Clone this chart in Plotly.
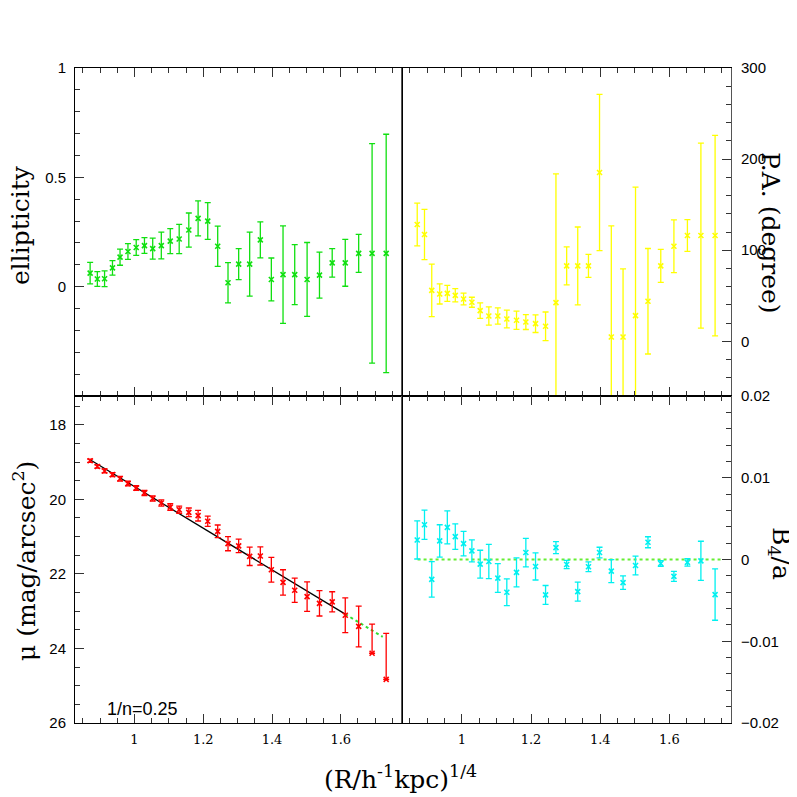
import plotly.graph_objects as go

# radius (R/h^-1 kpc)^(1/4), shared by all four panels
r14 = [0.871, 0.892, 0.913, 0.936, 0.958, 0.981, 1.005, 1.029, 1.053, 1.078,
       1.104, 1.130, 1.158, 1.185, 1.213, 1.242, 1.272, 1.303, 1.335, 1.366,
       1.398, 1.432, 1.466, 1.502, 1.538, 1.575, 1.613, 1.652, 1.691, 1.732]

ellip = [0.062, 0.035, 0.036, 0.086, 0.135, 0.161, 0.179, 0.188, 0.174, 0.188,
         0.208, 0.218, 0.259, 0.312, 0.300, 0.185, 0.018, 0.103, 0.103, 0.214,
         0.033, 0.055, 0.055, 0.033, 0.053, 0.109, 0.109, 0.152, 0.152, 0.152]
ellip_err = [0.049, 0.034, 0.036, 0.033, 0.037, 0.036, 0.036, 0.036, 0.048, 0.061,
             0.057, 0.067, 0.078, 0.080, 0.084, 0.092, 0.092, 0.071, 0.146, 0.082,
             0.098, 0.223, 0.137, 0.169, 0.105, 0.065, 0.107, 0.087, 0.502, 0.545]

pa = [128.2, 117.2, 56.0, 52.0, 52.7, 50.5, 46.5, 42.9, 33.7, 27.8,
      27.8, 24.5, 23.1, 21.2, 19.4, 16.5, 42.5, 82.8, 82.8, 82.8,
      185.3, 4.8, 4.8, 28.2, 44.0, 82.8, 104.4, 116.1, 116.1, 116.1]
pa_err = [23.5, 27.6, 28.8, 11.0, 8.8, 7.3, 6.4, 5.5, 8.6, 10.0,
          9.0, 9.7, 10.0, 8.2, 9.7, 15.7, 141.4, 20.9, 42.7, 12.6,
          85.7, 122.0, 74.7, 141.0, 57.9, 18.1, 29.0, 17.4, 101.5, 110.0]

mu = [18.967, 19.12, 19.24, 19.34, 19.45, 19.58, 19.70, 19.83, 19.98, 20.10,
      20.21, 20.28, 20.35, 20.44, 20.59, 20.86, 21.19, 21.25, 21.53, 21.52,
      21.89, 22.23, 22.44, 22.61, 22.79, 22.75, 23.11, 23.41, 24.13, 24.83]
mu_err_plus = [0.045, 0.045, 0.054, 0.054, 0.063, 0.063, 0.063, 0.07, 0.07, 0.085,
               0.09, 0.094, 0.116, 0.143, 0.139, 0.17, 0.19, 0.183, 0.246, 0.242,
               0.33, 0.34, 0.327, 0.394, 0.34, 0.27, 0.466, 0.546, 0.0, 0.0]
mu_err_minus = [0.045, 0.045, 0.054, 0.054, 0.063, 0.063, 0.063, 0.07, 0.07, 0.085,
                0.09, 0.094, 0.116, 0.143, 0.139, 0.17, 0.19, 0.183, 0.246, 0.242,
                0.33, 0.34, 0.327, 0.394, 0.34, 0.27, 0.466, 0.546, 0.78, 1.235]

# Sersic fit (1/n = 0.25): fitted part and extrapolation
fit_x = [0.871, 1.613]
fit_mu = [18.94, 23.08]
ext_x = [1.613, 1.722]
ext_mu = [23.08, 23.69]

b4 = [0.00239, 0.00425, -0.00243, 0.00227, 0.00393, 0.00279, 0.00194, 0.00105, -0.00057, -0.00024,
      -0.00227, -0.0040, -0.00158, 0.00085, -0.00085, -0.00433, 0.00146, -0.00061, -0.00393, -0.00089,
      0.00085, -0.00142, -0.00283, -0.00073, 0.00211, -0.00049, -0.00206, -0.00036, -0.00016, -0.00429]
b4_err = [0.00233, 0.00178, 0.00217, 0.00198, 0.00202, 0.00156, 0.0015, 0.00134, 0.0017, 0.0021,
          0.00176, 0.00164, 0.00178, 0.00174, 0.00166, 0.00115, 0.00073, 0.0005, 0.00117, 0.00059,
          0.00065, 0.0014, 0.00083, 0.00115, 0.00067, 0.00036, 0.00061, 0.00045, 0.00239, 0.00314]
b4_ref_x = [0.872, 1.755]
b4_ref_y = [0.0, 0.0]

GREEN = '#10e010'
YELLOW = '#ffff00'
RED = '#ff0000'
CYAN = '#00f0f0'

fig = go.Figure()


def err_trace(x, y, err, color, xa, ya, errminus=None):
    e = dict(type='data', array=err, color=color, thickness=1.3, width=3)
    if errminus is not None:
        e['symmetric'] = False
        e['arrayminus'] = errminus
    return go.Scatter(x=x, y=y, mode='markers', xaxis=xa, yaxis=ya,
                      marker=dict(symbol='x-thin', size=5, color=color,
                                  line=dict(color=color, width=1.6)),
                      error_y=e, showlegend=False)


fig.add_trace(err_trace(r14, ellip, ellip_err, GREEN, 'x', 'y'))
fig.add_trace(err_trace(r14, pa, pa_err, YELLOW, 'x2', 'y2'))
fig.add_trace(go.Scatter(x=fit_x, y=fit_mu, mode='lines', xaxis='x3', yaxis='y3',
                         line=dict(color='black', width=1.3), showlegend=False))
fig.add_trace(go.Scatter(x=ext_x, y=ext_mu, mode='lines', xaxis='x3', yaxis='y3',
                         line=dict(color='#33dd33', width=2, dash='dot'), showlegend=False))
fig.add_trace(err_trace(r14, mu, mu_err_plus, RED, 'x3', 'y3', errminus=mu_err_minus))
fig.add_trace(go.Scatter(x=b4_ref_x, y=b4_ref_y, mode='lines', xaxis='x4', yaxis='y4',
                         line=dict(color='#66ee33', width=2, dash='dot'), showlegend=False))
fig.add_trace(err_trace(r14, b4, b4_err, CYAN, 'x4', 'y4'))

# the page has an 8px body margin, so the figure is 789px and positions are offset by 8
OFF = 8.0
W = 789.0


def px(x):
    return (x - OFF) / W


def py(y):
    return 1 - (y - OFF) / W


xl = [px(75), px(402)]
xr = [px(402), px(731)]
yt = [py(396), py(68)]
yb = [py(723), py(396)]

sans = dict(family='Liberation Sans, Arial', size=15, color='black')
serif_tick = dict(family='DejaVu Serif', size=13, color='black')

xcommon = dict(range=[0.827, 1.778], tick0=1, dtick=0.2, ticks='inside', ticklen=9,
               tickcolor='#333', showline=True, linecolor='black', linewidth=1,
               mirror='ticks', showgrid=False, zeroline=False, automargin=False,
               minor=dict(tick0=1, dtick=0.05, ticks='inside', ticklen=5, tickcolor='#333'),
               tickfont=serif_tick, ticklabelstandoff=4)
ycommon = dict(ticks='inside', ticklen=9, tickcolor='#333', showline=True, linecolor='black',
               linewidth=1, mirror=True, showgrid=False, zeroline=False, tickfont=sans,
               automargin=False)

fig.update_layout(
    xaxis=dict(xcommon, domain=xl, anchor='y', showticklabels=False),
    xaxis2=dict(xcommon, domain=xr, anchor='y2', showticklabels=False),
    xaxis3=dict(xcommon, domain=xl, anchor='y3'),
    xaxis4=dict(xcommon, domain=xr, anchor='y4'),
    yaxis=dict(ycommon, domain=yt, anchor='x', range=[-0.5, 1], tickvals=[0, 0.5, 1],
               ticktext=['0', '0.5', '1'], ticklabelstandoff=5,
               minor=dict(tick0=-0.5, dtick=0.1, ticks='inside', ticklen=5, tickcolor='#333')),
    yaxis2=dict(ycommon, domain=yt, anchor='x2', side='right', range=[-60, 300],
                tickvals=[0, 100, 200, 300], ticklabelstandoff=6, linecolor='#555',
                minor=dict(tick0=0, dtick=20, ticks='inside', ticklen=5, tickcolor='#333')),
    yaxis3=dict(ycommon, domain=yb, anchor='x3', range=[26, 17.23],
                tickvals=[18, 20, 22, 24, 26], ticklabelstandoff=5,
                minor=dict(tick0=18, dtick=0.5, ticks='inside', ticklen=5, tickcolor='#333')),
    yaxis4=dict(ycommon, domain=yb, anchor='x4', side='right', range=[-0.02, 0.02],
                tickvals=[-0.02, -0.01, 0, 0.01, 0.02], ticklabelstandoff=6, linecolor='#555',
                minor=dict(tick0=0, dtick=0.002, ticks='inside', ticklen=5, tickcolor='#333')),
    width=789, height=789, autosize=False,
    margin=dict(l=0, r=0, t=0, b=0, pad=0, autoexpand=False),
    paper_bgcolor='white', plot_bgcolor='white',
    showlegend=False,
)

title_font = dict(family='DejaVu Serif', size=25, color='black')
fig.add_annotation(text='ellipticity', x=px(21), y=py(225), xref='paper', yref='paper',
                   textangle=-90, showarrow=False, font=title_font,
                   xanchor='center', yanchor='middle')
fig.add_annotation(text='μ (mag/arcsec<sup>2</sup>)', x=px(24), y=py(561),
                   xref='paper', yref='paper', textangle=-90, showarrow=False,
                   font=title_font, xanchor='center', yanchor='middle')
fig.add_annotation(text='P.A. (degree)', x=px(771), y=py(233), xref='paper', yref='paper',
                   textangle=90, showarrow=False, font=title_font,
                   xanchor='center', yanchor='middle')
fig.add_annotation(text='B<sub>4</sub>/a', x=px(780), y=py(553), xref='paper', yref='paper',
                   textangle=90, showarrow=False, font=title_font,
                   xanchor='center', yanchor='middle')
fig.add_annotation(text='(R/h<sup>-1</sup>kpc)<sup>1/4</sup>', x=px(400), y=py(777),
                   xref='paper', yref='paper', showarrow=False, font=title_font,
                   xanchor='center', yanchor='middle')
fig.add_annotation(text='1/n=0.25', x=px(105), y=py(709), xref='paper', yref='paper',
                   showarrow=False, xanchor='left', yanchor='middle',
                   font=dict(family='Liberation Sans, Arial', size=18, color='black'))

fig.write_html("out.html")
